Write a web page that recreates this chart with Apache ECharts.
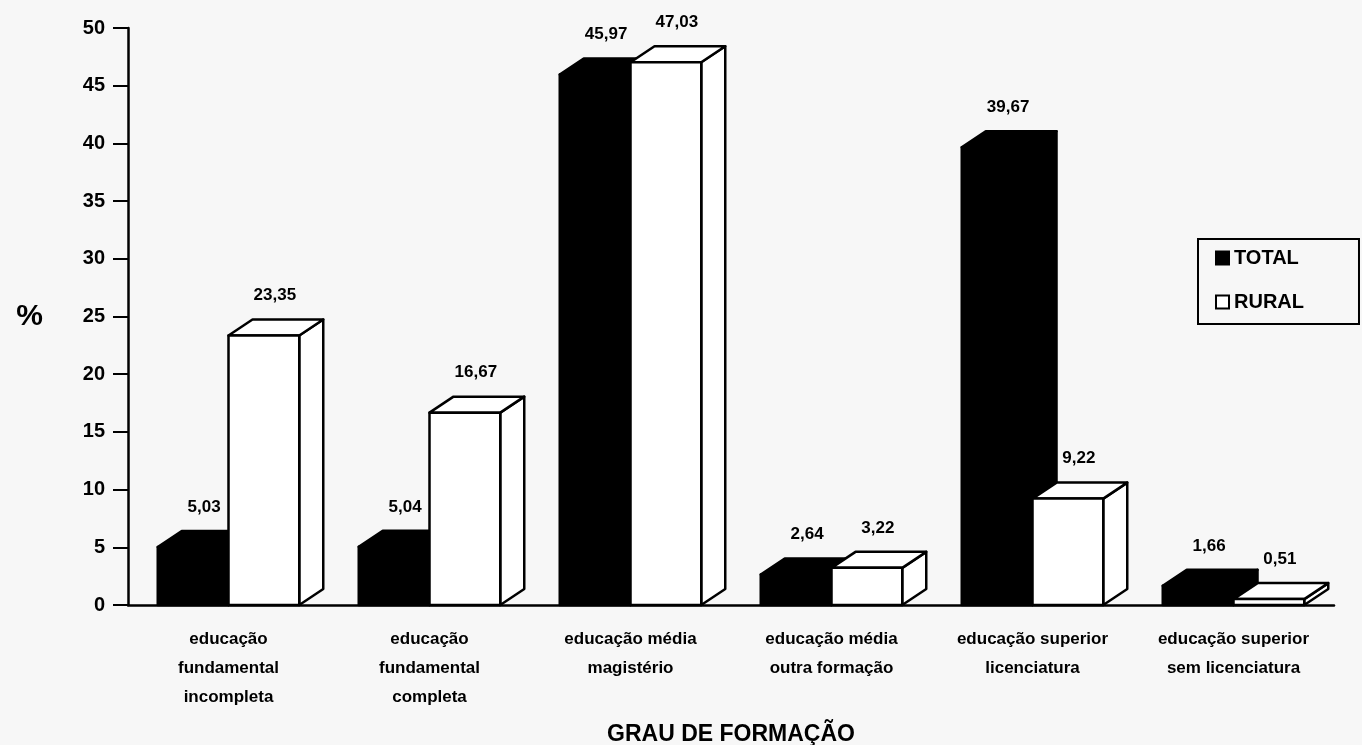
<!DOCTYPE html>
<html>
<head>
<meta charset="utf-8">
<title>Grau de formação</title>
<script src="https://cdn.jsdelivr.net/npm/echarts@6/dist/echarts.min.js"></script>
<style>
    html, body { margin: 0; padding: 0; background: #f7f7f7; }
    #main { width: 1362px; height: 745px; }
</style>
</head>
<body>
<div id="main"></div>
<script>
// categorias do eixo x
var categorias = [
    'educação\nfundamental\nincompleta',
    'educação\nfundamental\ncompleta',
    'educação média\nmagistério',
    'educação média\noutra formação',
    'educação superior\nlicenciatura',
    'educação superior\nsem licenciatura'
];
var total = [5.03, 5.04, 45.97, 2.64, 39.67, 1.66];
var rural = [23.35, 16.67, 47.03, 3.22, 9.22, 0.51];

var FONT = '"Liberation Sans", Arial, sans-serif';
var DX = 24, DY = -16;   // profundidade do efeito 3D

function fmt(v) {
    return v.toFixed(2).replace('.', ',');
}

// barra 3D: lado 0 = esquerda (TOTAL), lado 1 = direita (RURAL)
function caixa(lado, fill) {
    return function (params, api) {
        var v = api.value(1);
        var topo = api.coord([api.value(0), v]);
        var base = api.coord([api.value(0), 0]);
        var w = api.size([1, 0])[0] * 0.352;
        var x0 = lado === 0 ? topo[0] - w : topo[0];
        var x1 = x0 + w;
        var yt = topo[1], yb = base[1];
        var estilo = { fill: fill, stroke: '#000', lineWidth: 2.5, lineJoin: 'round' };
        return {
            type: 'group',
            children: [
                { type: 'polygon', z2: 10 + lado * 10, shape: { points: [[x1, yt], [x1 + DX, yt + DY], [x1 + DX, yb + DY], [x1, yb]] }, style: estilo },
                { type: 'polygon', z2: 10 + lado * 10, shape: { points: [[x0, yt], [x0 + DX, yt + DY], [x1 + DX, yt + DY], [x1, yt]] }, style: estilo },
                { type: 'rect', z2: 10 + lado * 10, shape: { x: x0, y: yt, width: w, height: yb - yt }, style: estilo },
                {
                    type: 'text', z2: 0,
                    style: {
                        text: fmt(v), x: (x0 + x1) / 2 + 11, y: yt - 40,
                        align: 'center', verticalAlign: 'middle',
                        font: 'bold 17px ' + FONT, fill: '#000'
                    }
                }
            ]
        };
    };
}

var myChart = echarts.init(document.getElementById('main'));
myChart.setOption({
    backgroundColor: '#f7f7f7',
    animation: false,
    grid: { left: 128, right: 28, top: 28, bottom: 140, outerBoundsMode: 'none', containLabel: false },
    legend: {
        orient: 'vertical',
        left: 1198,
        top: 239,
        padding: [9, 55, 12, 17],
        itemGap: 24,
        itemWidth: 13,
        itemHeight: 13,
        borderColor: '#000',
        borderWidth: 2,
        icon: 'rect',
        textStyle: { color: '#000', fontSize: 20, fontWeight: 'bold', fontFamily: FONT },
        data: [
            { name: 'TOTAL', itemStyle: { color: '#000', borderColor: '#000', borderWidth: 2 } },
            { name: 'RURAL', itemStyle: { color: '#fff', borderColor: '#000', borderWidth: 2 } }
        ]
    },
    xAxis: {
        type: 'category',
        data: categorias,
        name: 'GRAU DE FORMAÇÃO',
        nameLocation: 'middle',
        nameGap: 118,
        nameTextStyle: { color: '#000', fontSize: 23, fontWeight: 'bold', fontFamily: FONT },
        axisLine: { lineStyle: { color: '#000', width: 2.5 } },
        axisTick: { length: 13, lineStyle: { color: '#000', width: 2 } },
        axisLabel: {
            interval: 0, margin: 20, color: '#000',
            fontSize: 17, fontWeight: 'bold', fontFamily: FONT, lineHeight: 29
        }
    },
    yAxis: {
        type: 'value',
        min: 0, max: 50, interval: 5,
        name: '%',
        nameLocation: 'middle',
        nameRotate: 0,
        nameGap: 85,
        nameTextStyle: { color: '#000', fontSize: 30, fontWeight: 'bold', fontFamily: FONT, padding: [0, 0, 20, 0] },
        splitLine: { show: false },
        axisLine: { show: true, lineStyle: { color: '#000', width: 2.5 } },
        axisTick: { show: true, length: 15, lineStyle: { color: '#000', width: 2 } },
        axisLabel: { margin: 23, color: '#000', fontSize: 20, fontWeight: 'bold', fontFamily: FONT }
    },
    series: [
        {
            name: 'TOTAL', type: 'custom',
            itemStyle: { color: '#000' },
            renderItem: caixa(0, '#000'),
            data: total.map(function (v, i) { return [i, v]; })
        },
        {
            name: 'RURAL', type: 'custom',
            itemStyle: { color: '#fff', borderColor: '#000', borderWidth: 2 },
            renderItem: caixa(1, '#fff'),
            data: rural.map(function (v, i) { return [i, v]; })
        }
    ]
});
</script>
</body>
</html>
